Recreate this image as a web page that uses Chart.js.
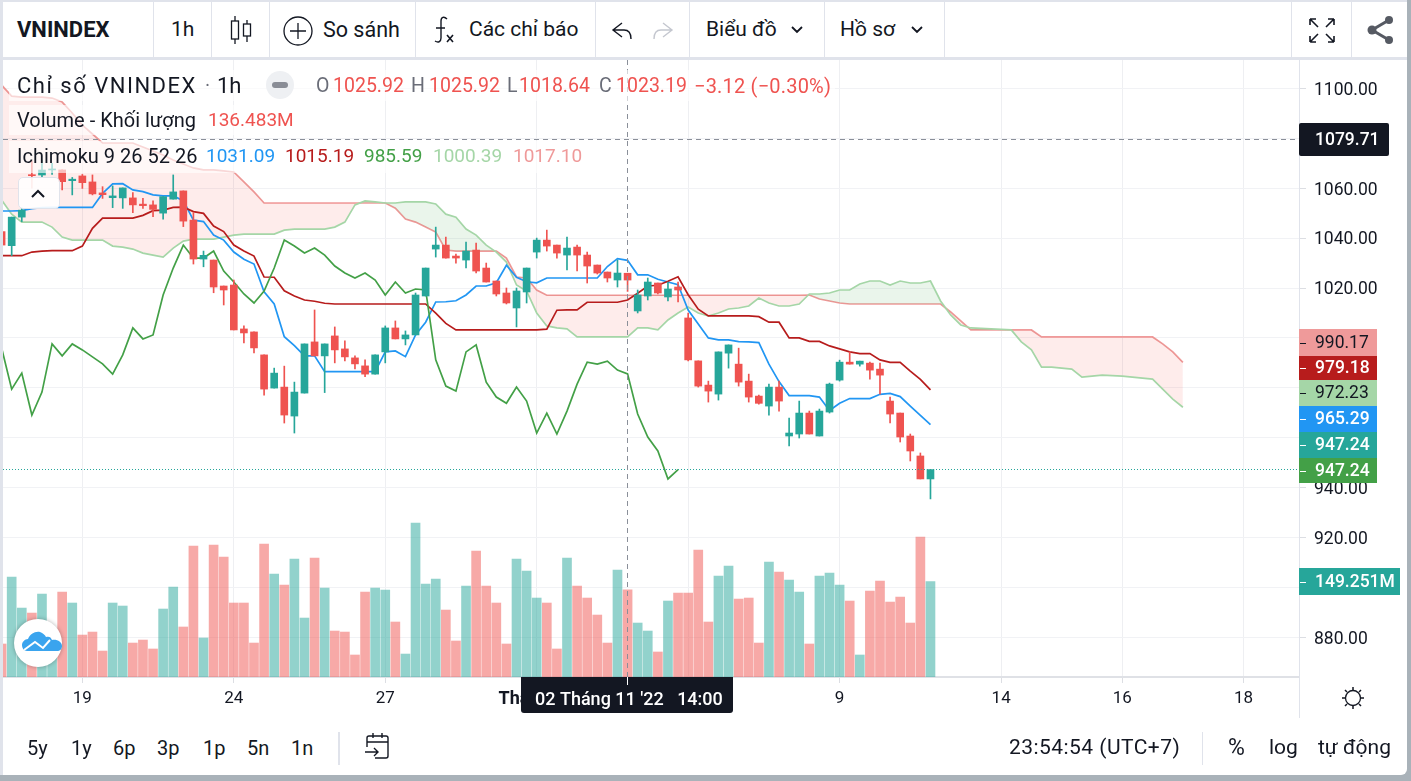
<!DOCTYPE html>
<html>
<head>
<meta charset="utf-8">
<title>VNINDEX</title>
<script src="https://cdn.jsdelivr.net/npm/chart.js@4/dist/chart.umd.min.js"></script>
<style>
    html, body { margin: 0; padding: 0; width: 1411px; height: 781px; overflow: hidden; background: #a9b2b9; font-family: Roboto, sans-serif; color: #131722; }
    #panel { position: absolute; left: 0; top: 0; width: 1407px; height: 775px; background: #fff; border-bottom-right-radius: 6px; overflow: hidden; }
    #edgeLeft { position: absolute; left: 0; top: 0; width: 3px; height: 775px; background: #e0e3eb; }
    #edgeTop { position: absolute; left: 0; top: 0; width: 1407px; height: 2px; background: #e0e3eb; }
    #toolbarLine { position: absolute; left: 0; top: 57px; width: 1407px; height: 3px; background: #e0e3eb; }
    #chartCanvas { position: absolute; left: 3px; top: 60px; }
    .sep { position: absolute; top: 2px; width: 1px; height: 55px; background: #e0e3eb; }
    .t { position: absolute; white-space: nowrap; transform: translateY(-50%); line-height: 1.2; }
    .bar { font-size: 21px; }
    .foot { font-size: 20px; top: 748px; }
    .footWide { font-size: 21px; top: 748px; }
    .row1 { font-size: 19.5px; top: 86px; }
    .row2 { font-size: 19px; top: 120px; }
    .row3 { font-size: 19px; top: 156px; }
    .red { color: #ef5350; }
    .grey { color: #6a6d78; }
    .back { position: absolute; background: rgba(255,255,255,0.62); }
    svg { position: absolute; overflow: visible; }
</style>
</head>
<body>
<div id="panel">
    <canvas id="chartCanvas" width="1397" height="658"></canvas>

    <div id="edgeLeft"></div>
    <div id="edgeTop"></div>
    <div id="toolbarLine"></div>
    <div class="sep" style="left:153px"></div>
    <div class="sep" style="left:211px"></div>
    <div class="sep" style="left:269px"></div>
    <div class="sep" style="left:415px"></div>
    <div class="sep" style="left:595px"></div>
    <div class="sep" style="left:689px"></div>
    <div class="sep" style="left:824px"></div>
    <div class="sep" style="left:944px"></div>
    <div class="sep" style="left:1291px"></div>
    <div class="sep" style="left:1351px"></div>

    <span class="t bar" style="left:17px;top:30px;font-weight:700;font-size:22px">VNINDEX</span>
    <span class="t bar" style="left:171px;top:30px">1h</span>
    <span class="t bar" style="left:323px;top:30px;font-size:21.5px">So sánh</span>
    <span class="t bar" style="left:469px;top:30px">Các chỉ báo</span>
    <span class="t bar" style="left:706px;top:30px">Biểu đồ</span>
    <span class="t bar" style="left:840px;top:30px">Hồ sơ</span>

    <!-- toolbar icons -->
    <svg style="left:0;top:0" width="1407" height="58" fill="none" stroke="#131722" stroke-width="1.3">
        <path d="M235 16v28M247 20v22"/>
        <rect x="231.5" y="21" width="7" height="18" fill="#fff"/>
        <rect x="243.5" y="24" width="7" height="12" fill="#fff"/>
        <circle cx="298" cy="31" r="14"/>
        <path d="M298 23v16M290 31h16"/>
        <path d="M447 19c-3-3-6-2-6 2v17c0 4-3 5-6 3M436 28h9" stroke-width="1.4"/>
        <path d="M447 35l6 7M453 35l-6 7" stroke-width="1.6"/>
        <path d="M622 23l-9 7 9 7M613 30h11c5 0 7 4 7 9" stroke-width="1.4"/>
        <path d="M663 23l9 7-9 7M672 30h-11c-5 0-7 4-7 9" stroke="#c4c7cf" stroke-width="1.4"/>
        <path d="M792 27l5 5 5-5M912 27l5 5 5-5" stroke-width="1.8"/>
        <path d="M1310 19l8 8M1310 19v6M1310 19h6M1334 19l-8 8M1334 19v6M1334 19h-6M1310 42l8-8M1310 42v-6M1310 42h6M1334 42l-8-8M1334 42v-6M1334 42h-6" stroke-width="1.6"/>
        <path d="M1389 20l-17 10 17 10" stroke="#565a63" stroke-width="3"/>
        <circle cx="1389" cy="20" r="4" fill="#565a63" stroke="none"/>
        <circle cx="1372" cy="30" r="4.5" fill="#565a63" stroke="none"/>
        <circle cx="1389" cy="40" r="4" fill="#565a63" stroke="none"/>
    </svg>

    <!-- legend rows, the white backs let the cloud show through faintly -->
    <div class="back" style="left:9px;top:70px;width:826px;height:31px"></div>
    <div class="back" style="left:9px;top:105px;width:292px;height:30px"></div>
    <div class="back" style="left:9px;top:141px;width:585px;height:32px"></div>

    <span class="t row1" style="left:17px;font-size:22px;letter-spacing:1.5px">Chỉ số VNINDEX</span>
    <span class="t row1 grey" style="left:205px">·</span>
    <span class="t row1" style="left:217px;font-size:22px">1h</span>
    <span class="t row1 grey" style="left:316px">O</span><span class="t row1 red" style="left:333px">1025.92</span>
    <span class="t row1 grey" style="left:411px">H</span><span class="t row1 red" style="left:429px">1025.92</span>
    <span class="t row1 grey" style="left:507px">L</span><span class="t row1 red" style="left:519px">1018.64</span>
    <span class="t row1 grey" style="left:599px">C</span><span class="t row1 red" style="left:616px">1023.19</span>
    <span class="t row1 red" style="left:694px;font-size:20px;letter-spacing:0.2px">−3.12 (−0.30%)</span>

    <span class="t row2" style="left:17px;font-size:20px">Volume - Khối lượng</span>
    <span class="t row2 red" style="left:208px">136.483M</span>

    <span class="t row3" style="left:17px;font-size:20px">Ichimoku 9 26 52 26</span>
    <span class="t row3" style="left:206px;color:#2196f3">1031.09</span>
    <span class="t row3" style="left:285px;color:#b71c1c">1015.19</span>
    <span class="t row3" style="left:364px;color:#43a047">985.59</span>
    <span class="t row3" style="left:433px;color:#a5d6a7">1000.39</span>
    <span class="t row3" style="left:513px;color:#ef9a9a">1017.10</span>

    <!-- minus button, collapse button, logo -->
    <div style="position:absolute;left:266px;top:71px;width:28px;height:28px;border-radius:14px;background:#eef0f3"></div>
    <div style="position:absolute;left:272px;top:82px;width:16px;height:6px;border-radius:3px;background:#8a8d96"></div>
    <div style="position:absolute;left:18px;top:177px;width:40px;height:30px;border:1px solid #e0e3eb;border-radius:5px;background:rgba(255,255,255,0.9)"></div>
    <svg style="left:0;top:0" width="80" height="220" fill="none" stroke="#131722" stroke-width="2"><path d="M32 197l6-6 6 6"/></svg>
    <div style="position:absolute;left:14px;top:619px;width:48px;height:48px;border-radius:24px;background:#fff;box-shadow:0 0 4px rgba(0,0,0,0.3)"></div>
    <svg style="left:0;top:0" width="80" height="680">
        <path d="M22 645c0-3 3-6 6-6 2-5 7-8 12-7 3 1 5 3 6 5 3-1 5 0 6 3 5-1 10 2 10 6 0 3-2 5-5 5H27c-3 0-5-3-5-6z" fill="#3aa4ee"/>
        <path d="M24 650l11-8 8 6 7-8" fill="none" stroke="#fff" stroke-width="2"/>
    </svg>

    <!-- right axis divider and gear -->
    <div style="position:absolute;left:1299px;top:677px;width:1px;height:41px;background:#e0e3eb"></div>
    <svg style="left:0;top:0" width="1407" height="720" fill="none" stroke="#131722" stroke-width="1.3">
        <circle cx="1353" cy="698" r="7.5"/>
        <path d="M1353 687v3M1353 706v3M1342 698h3M1361 698h3M1345 690l2 2M1359 704l2 2M1345 706l2-2M1359 692l2-2" stroke-width="1.5"/>
    </svg>

    <!-- bottom bar -->
    <span class="t foot" style="left:27px">5y</span>
    <span class="t foot" style="left:71px">1y</span>
    <span class="t foot" style="left:113px">6p</span>
    <span class="t foot" style="left:157px">3p</span>
    <span class="t foot" style="left:203px">1p</span>
    <span class="t foot" style="left:247px">5n</span>
    <span class="t foot" style="left:291px">1n</span>
    <div style="position:absolute;left:338px;top:732px;width:2px;height:33px;background:#e0e3eb"></div>
    <svg style="left:0;top:0" width="400" height="775" fill="none" stroke="#131722" stroke-width="1.4">
        <path d="M367 747v-9a2 2 0 0 1 2-2h17a2 2 0 0 1 2 2v18a2 2 0 0 1-2 2h-11M367 742h21M373 733v5M382 733v5M365 752h13M374 748l4 4-4 4"/>
    </svg>
    <span class="t footWide" style="left:1009px;letter-spacing:0.45px">23:54:54 (UTC+7)</span>
    <div style="position:absolute;left:1202px;top:732px;width:1px;height:33px;background:#e0e3eb"></div>
    <span class="t footWide" style="left:1228px;font-size:23px">%</span>
    <span class="t footWide" style="left:1269px">log</span>
    <span class="t footWide" style="left:1318px">tự động</span>
</div>

<script>
// candles, one hour per bar
const opens = [1042.6,1036.96,1048.4,1065.3,1065.27,1067.3,1067.3,1063,1064.9,1062.5,
    1058.1,1056.2,1056.1,1056.1,1053.6,1053.3,1050,1055.6,1058.9,1047.2,
    1031.6,1031.2,1020.8,1021.2,1003.6,1002.4,993.2,979.9,980.3,968.7,
    977.9,998.4,992.8,1000.8,995.6,992,988.8,985.5,994.4,1004,
    999.6,1001.2,1016.8,1035.6,1037.2,1032.8,1031.2,1035.2,1028,1022.8,
    1018,1012,1018.4,1034.4,1039.2,1037.2,1033.2,1036.4,1033.2,1029.2,
    1026.4,1023.2,1025.92,1010.8,1016.8,1022,1016.4,1020.4,1008,990.8,
    981.1,977.5,993.9,989.5,982.7,976.7,972.7,980.3,960.7,961.5,
    969.9,960.7,970.3,983.1,990.3,989.5,989.9,987.5,974.7,969.9,
    960.7,952.7,943.5];
const highs = [1042.6,1048.4,1052,1071,1071.3,1070,1067.3,1064.3,1065.5,1065.3,
    1060.6,1060.9,1060.1,1058.2,1055.9,1054.9,1056.6,1065.3,1058.9,1050.2,
    1034.8,1031.2,1020.8,1023.2,1004.8,1002.4,993.2,987.9,988.7,982.3,
    997.6,1011.2,997.6,1004.4,998.8,992.8,991.2,993.2,1004.8,1006.8,
    1002.8,1018,1028,1044.4,1040.4,1033.6,1038.4,1038,1030,1022.8,
    1020,1020,1028,1040,1043.2,1037.2,1040.4,1037.2,1034.4,1029.2,
    1026.4,1031.2,1025.92,1019.2,1024,1022,1022.4,1022.4,1010,990.8,
    982.7,994.4,997.2,995.9,985.5,977.1,981.5,982.7,967.9,974.7,
    970.7,971.5,981.9,991.1,994.4,990.7,990.3,989.9,976.3,969.9,
    961.5,953.9,947.24];
const lows = [1037.2,1032.95,1046.6,1060,1064.6,1065.5,1059.3,1057.3,1059.9,1057.3,
    1055.9,1052.2,1051.9,1050.2,1051.9,1048.6,1047.6,1055.6,1044.6,1029.6,
    1028.5,1018.1,1013.2,1003.2,998,994,977.1,979.9,965.9,961.9,
    977.9,992.8,978.1,990,990.8,987.6,984.5,985.5,990,999.6,
    997.2,1001.2,1016.8,1032.4,1032,1030,1028,1026,1022.4,1016.8,
    1013.6,1004.4,1014,1032,1034.8,1032,1027.2,1026.8,1022,1025.6,
    1022.4,1020.4,1018.64,1010,1015.2,1017.6,1014.8,1014.4,990.8,980.3,
    974.3,975.1,987.9,980.7,974.3,973.5,969.1,970.7,956.7,959.9,
    961.5,960.7,969.9,982.7,989.5,988.7,983.5,977.5,965.9,958.3,
    950.7,943.5,935.5];
const closes = [1037.2,1048.4,1051.2,1065,1067.27,1067.6,1062.6,1063.6,1062.2,1057.7,
    1057.4,1056.9,1060.1,1053.3,1053,1051.5,1056.6,1058.5,1046.8,1031.6,
    1033.1,1020.4,1019.2,1003.2,1002,996,979.5,985.9,969.1,978.3,
    997.6,992.8,997.6,995.2,992.4,989.6,985.5,993.2,1004,999.6,
    1001.2,1017.2,1028,1037.2,1032,1032,1034.8,1026.8,1022.4,1017.6,
    1014,1018.8,1028,1039.2,1036.8,1034,1036,1033.2,1028.8,1026,
    1024,1026,1023.19,1017.2,1022.4,1018,1019.6,1019.2,991.2,980.7,
    978.7,994.4,997.2,982.3,976.3,973.8,980.3,974.7,961.9,969.9,
    961.5,970.7,981.5,990.3,989.5,990.7,987.1,985.1,969.5,960.3,
    954.7,943.5,947.24];

// volume in millions
const volumes = [51.6,156.3,107.8,100,129.7,68.3,132.9,115.7,65.6,70.3,
    40.6,115.7,111,53.1,57.8,43.8,106.3,140.7,78.2,204.8,
    61,206.3,187.6,115.7,115.7,53.1,207.9,161,143.8,184.4,
    92.2,186,139.1,71.9,70.3,34.4,132.9,139.1,136,86,
    35.9,240.7,145.4,153.2,104.7,56.3,142.2,196.9,142.2,115.7,
    51.6,184.4,165.7,123.5,115.7,43.8,186,142.2,123.5,96.9,
    53.1,167.2,136.483,84.4,71.9,39.1,118.8,131.3,131.3,198.5,
    86,157.9,173.5,121.9,123.5,53.1,179.7,164.1,151.6,132.9,
    51.6,157.9,162.6,143.8,118.8,34.4,134.4,150,117.2,125,
    84.4,218.8,149.251];

// ichimoku lines
const tenkan = [1050.85,1050.85,1051,1051.8,1052.2,1052.3,1052.3,1052.3,1052.3,1052.3,
    1057.9,1061.7,1061.8,1059.3,1058.6,1057.3,1056.9,1056.9,1055,1047.2,
    1046.6,1041.2,1039.2,1034.4,1031.5,1029.6,1018.5,1013.6,1000.5,996.9,
    992.8,992.8,986.5,986.5,986.5,986.5,986.5,986.5,994.4,994.8,
    992.5,1001.2,1006.3,1014.4,1014.5,1014.9,1017.2,1020.8,1020.8,1022.1,
    1029.1,1024.3,1022.5,1022.1,1024,1024,1024,1024,1024,1024,
    1028.6,1031.8,1031.09,1025.3,1025.3,1023.5,1022.4,1021.3,1011.2,1005.6,
    1000,999.2,999.2,998.5,998.4,998.1,989.5,982.5,976.9,976.9,
    976.9,976.3,970.9,973.8,975.7,975.7,975.7,977.4,977.8,976.5,
    972.7,969,965.29];
const kijun = [1032.95,1032.95,1032.95,1034.4,1034.8,1034.95,1034.95,1034.95,1036.8,1043.9,
    1048,1048,1048,1048,1049.1,1051,1051.2,1052.3,1052.4,1050.6,
    1049.9,1044.8,1042.6,1037.2,1034.8,1032.8,1024.4,1024.3,1018.9,1016.8,
    1015.2,1014.7,1013.9,1013.6,1013.6,1013.6,1013.6,1013.6,1013.6,1013.6,
    1013.6,1013.6,1013.6,1009.9,1005.8,1003.2,1003.2,1003.2,1003.2,1003.2,
    1003.2,1003.2,1003.2,1003.2,1003.5,1011.1,1011.2,1011.2,1014.3,1014.3,
    1014.3,1014.3,1015.19,1017.9,1020.8,1021.1,1022.7,1024.5,1017.3,1011.5,
    1008.8,1008.8,1008.8,1008.8,1008.8,1008.5,1006.3,1006.3,1000,1000,
    998.6,998.6,996.8,995.6,994.4,993.7,993.7,991.2,990.2,990.2,
    986.7,983.4,979.18];
const chikou = [996,979.5,985.9,969.1,978.3,997.6,992.8,997.6,995.2,992.4,
    989.6,985.5,993.2,1004,999.6,1001.2,1017.2,1028,1037.2,1032,
    1032,1034.8,1026.8,1022.4,1017.6,1014,1018.8,1028,1039.2,1036.8,
    1034,1036,1033.2,1028.8,1026,1024,1026,1023.19,1017.2,1022.4,
    1018,1019.6,1019.2,991.2,980.7,978.7,994.4,997.2,982.3,976.3,
    973.8,980.3,974.7,961.9,969.9,961.5,970.7,981.5,990.3,989.5,
    990.7,987.1,985.59,969.5,960.3,954.7,943.5,947.24];
const spanA = [1055.25,1049.6,1046.4,1046.4,1046.4,1044.4,1040.4,1039.2,1039.2,1039.2,
    1039.2,1036.8,1036.4,1035.6,1034,1033.2,1032.4,1036,1038.8,1039.6,
    1039.6,1039.6,1040.4,1041.2,1041.6,1041.6,1041.6,1041.6,1043.2,1043.6,
    1043.6,1043.6,1043.6,1044.4,1046.4,1053.3,1054.9,1054.5,1054.05,1054.05,
    1054.5,1054.5,1054.5,1053.65,1049.6,1048.4,1043.6,1041.2,1037.2,1034.4,
    1030.4,1021.2,1018.8,1010,1004.8,1004,1003.6,1000.4,1000.4,1000.4,
    1000.4,1000.4,1000.39,1004,1004,1003.2,1007.2,1010,1012.4,1010,
    1008.8,1010,1011.6,1012,1012.8,1016,1014,1012.8,1012.8,1013.6,
    1017.6,1017.6,1018,1019.2,1019.2,1021.6,1022.8,1022.8,1021.2,1022.8,
    1022,1022,1022.8,1014.8,1009.2,1005.2,1004,1003.8,1003.6,1003.4,
    1003.2,998.4,995.2,988.3,988.3,987.9,987.5,984.3,984.7,985.1,
    984.9,984.7,984.3,983.9,983.5,979.5,975.5,972.23];
const spanB = [1101.3,1096.9,1096.5,1096.5,1096.5,1096.1,1094.5,1090.1,1085.3,1081.7,
    1078.1,1078.1,1078.1,1078.1,1076.5,1074.9,1073.3,1071.3,1069.7,1068.1,
    1067.3,1067.3,1066.9,1066.5,1062.5,1058.5,1054.05,1054.05,1054.05,1054.05,
    1054.05,1054.05,1054.05,1054.05,1054.05,1054.05,1054.05,1054.05,1054.05,1052,
    1047.6,1046.4,1044.4,1042.4,1035.2,1034.8,1034.8,1034.8,1034.8,1034.8,
    1032,1024.4,1024,1019.2,1017.1,1017.1,1017.1,1017.1,1017.1,1017.1,
    1017.1,1017.1,1017.1,1017.1,1017.1,1017.1,1017.1,1017.1,1017.1,1017.1,
    1017.1,1017.1,1017.1,1017.1,1017.1,1017.1,1017.1,1017.1,1017.1,1017.1,
    1017.2,1015.6,1014.8,1014,1013.6,1013.6,1013.6,1013.6,1013.6,1013.6,
    1013.6,1013.6,1013.6,1013.6,1010.4,1006.8,1003.2,1003.2,1003.2,1003.2,
    1003.2,1003.2,1003.2,1000.4,1000.4,1000.4,1000.4,1000.4,1000.4,1000.4,
    1000.4,1000.4,1000.4,1000.4,1000.4,997.6,994.4,990.17];

// axis ticks
const xTickIndex = [8, 23, 38, 53, 68, 83, 99, 111, 123];
const xTickLabels = ['19', '24', '27', 'Tháng 11', '', '9', '14', '16', '18'];
const yTicks = [880, 900, 920, 940, 960, 980, 1000, 1020, 1040, 1060, 1080, 1100];
const yHiddenLabels = [900, 960, 980, 1000, 1080]; // sit behind the price tags

// crosshair and last price
const crosshairIndex = 62;
const crosshairPrice = 1079.71;
const lastPrice = 947.24;
const crosshairPriceLabel = '1079.71';
const crosshairTimeLabel = "02 Tháng 11 '22   14:00";
const tagLabels = ['990.17', '979.18', '972.23', '965.29', '947.24', '947.24', '149.251M'];

const UP = '#26a69a';
const DOWN = '#ef5350';
const candleColors = closes.map((c, i) => c >= opens[i] ? UP : DOWN);
const volumeColors = closes.map((c, i) => c >= opens[i] ? 'rgba(38,166,154,0.5)' : 'rgba(239,83,80,0.5)');

function toPoints(values) {
    return values.map((v, i) => ({ x: i, y: v }));
}

function lineSet(values, color, order, extra) {
    return Object.assign({
        type: 'line',
        data: toPoints(values),
        borderColor: color,
        borderWidth: 1.7,
        pointRadius: 0,
        tension: 0,
        fill: false,
        order: order,
        yAxisID: 'y'
    }, extra || {});
}

// tag boxes in the price scale, they are stacked so they do not collide
const tagBoxes = [
    { top: 329, bottom: 356, bg: '#ef9a9a', fg: '#131722' },
    { top: 356, bottom: 380, bg: '#b71c1c', fg: '#fff' },
    { top: 380, bottom: 406, bg: '#a5d6a7', fg: '#131722' },
    { top: 406, bottom: 432, bg: '#2196f3', fg: '#fff' },
    { top: 432, bottom: 458, bg: '#26a69a', fg: '#fff' },
    { top: 458, bottom: 483, bg: '#43a047', fg: '#fff' },
    { top: 568, bottom: 595, bg: '#26a69a', fg: '#fff', wide: true }
];

const overlayPlugin = {
    id: 'overlay',
    afterDatasetsDraw(chart) {
        const c = chart.ctx, area = chart.chartArea;
        const yScale = chart.scales.y, xScale = chart.scales.x;
        c.save();
        c.lineWidth = 1;

        // last price dotted line
        const lastY = Math.floor(yScale.getPixelForValue(lastPrice)) + 0.5;
        c.strokeStyle = UP;
        c.setLineDash([1, 2]);
        c.beginPath(); c.moveTo(area.left, lastY); c.lineTo(area.right, lastY); c.stroke();

        // crosshair
        const crossY = Math.round(yScale.getPixelForValue(crosshairPrice)) + 0.5;
        const crossX = Math.floor(xScale.getPixelForValue(crosshairIndex)) + 0.5;
        c.strokeStyle = '#8a8f99';
        c.setLineDash([5, 4]);
        c.beginPath(); c.moveTo(area.left, crossY); c.lineTo(area.right, crossY); c.stroke();
        c.beginPath(); c.moveTo(crossX, area.top); c.lineTo(crossX, area.bottom); c.stroke();
        c.restore();
    },
    afterDraw(chart) {
        const c = chart.ctx, area = chart.chartArea;
        const xScale = chart.scales.x;
        const ox = 3, oy = 60; // canvas offset in the page
        c.save();
        c.textBaseline = 'middle';
        c.textAlign = 'left';

        function roundBox(x, y, w, h, r, color) {
            c.fillStyle = color;
            c.beginPath();
            c.roundRect(x, y, w, h, r);
            c.fill();
        }

        // stacked price tags
        tagBoxes.forEach((b, i) => {
            const w = b.wide ? 101 : 78;
            c.fillStyle = b.bg;
            c.fillRect(area.right, b.top - oy, w, b.bottom - b.top);
            c.font = (b.fg === '#fff' ? '500 ' : '') + '17.5px Roboto';
            c.fillStyle = b.fg;
            const mid = (b.top + b.bottom) / 2 - oy;
            c.fillText(tagLabels[i], area.right + 16, mid + 1);
            c.fillRect(area.right + 1, Math.round(mid), 6, 1);
        });

        // crosshair price tag
        roundBox(area.right, 123 - oy, 90, 33, 2, '#131722');
        c.fillStyle = '#fff';
        c.font = '500 17.5px Roboto';
        c.fillText(crosshairPriceLabel, area.right + 16, 140 - oy + 1);

        // crosshair time tag
        const crossX = Math.floor(xScale.getPixelForValue(crosshairIndex));
        roundBox(521 - ox, area.bottom, 212, 36, [0, 0, 3, 3], '#131722');
        c.fillStyle = '#fff';
        c.fillRect(crossX, area.bottom, 1, 8);
        c.font = '500 18px Roboto';
        c.fillStyle = '#fff';
        c.fillText(crosshairTimeLabel, 535 - ox, 700 - oy);
        c.restore();
    }
};

new Chart(document.getElementById('chartCanvas').getContext('2d'), {
    type: 'bar',
    plugins: [overlayPlugin],
    data: {
        datasets: [
            // span A fills towards span B, green above and red below
            lineSet(spanA, '#a5d6a7', 4, {
                fill: { target: '+1', above: 'rgba(67,160,71,0.11)', below: 'rgba(244,67,54,0.1)' }
            }),
            lineSet(spanB, '#ef9a9a', 4),
            lineSet(chikou, '#43a047', 3),
            lineSet(kijun, '#b71c1c', 3),
            lineSet(tenkan, '#2196f3', 3),
            {
                data: volumes.map((v, i) => ({ x: i, y: v })),
                backgroundColor: volumeColors,
                barThickness: 9,
                grouped: false,
                order: 5,
                yAxisID: 'yVolume'
            },
            {
                data: lows.map((l, i) => ({ x: i, y: [l, highs[i]] })),
                backgroundColor: candleColors,
                barThickness: 1,
                grouped: false,
                order: 2,
                yAxisID: 'y'
            },
            {
                data: opens.map((o, i) => ({ x: i, y: [o, closes[i]] })),
                backgroundColor: candleColors,
                barThickness: 7,
                minBarLength: 1,
                grouped: false,
                order: 1,
                yAxisID: 'y'
            }
        ]
    },
    options: {
        responsive: false,
        animation: false,
        events: [],
        layout: { padding: 0 },
        plugins: { legend: { display: false }, tooltip: { enabled: false } },
        scales: {
            x: {
                type: 'linear',
                offset: false,
                min: 0.14,
                max: 128.5,
                afterBuildTicks: axis => { axis.ticks = xTickIndex.map(v => ({ value: v })); },
                afterFit: axis => { axis.height = 41; axis.paddingLeft = 0; axis.paddingRight = 0; },
                grid: { color: '#eeeff2', offset: false, tickLength: 6, tickColor: '#dcdee3' },
                border: { color: '#dfe1e6', width: 2 },
                ticks: {
                    autoSkip: false,
                    maxRotation: 0,
                    padding: 6,
                    color: '#131722',
                    font: ctx => ({ family: 'Roboto', size: xTickLabels[ctx.index] === 'Tháng 11' ? 18 : 17, weight: xTickLabels[ctx.index] === 'Tháng 11' ? 'bold' : 'normal' }),
                    callback: value => xTickLabels[xTickIndex.indexOf(value)]
                }
            },
            y: {
                type: 'linear',
                position: 'right',
                min: 864.15,
                max: 1111.35,
                afterBuildTicks: axis => { axis.ticks = yTicks.map(v => ({ value: v })); },
                afterFit: axis => { axis.width = 101; axis.paddingTop = 0; axis.paddingBottom = 0; },
                grid: { color: '#f1f2f5', tickLength: 7, tickColor: '#dcdee3' },
                border: { color: '#e0e3eb' },
                ticks: {
                    autoSkip: false,
                    padding: 8,
                    labelOffset: 2,
                    color: '#131722',
                    font: { family: 'Roboto', size: 17.5 },
                    callback: value => yHiddenLabels.includes(value) ? '' : value.toFixed(2)
                }
            },
            yVolume: {
                type: 'linear',
                display: false,
                min: 0,
                max: 965
            }
        }
    }
});
</script>
</body>
</html>
